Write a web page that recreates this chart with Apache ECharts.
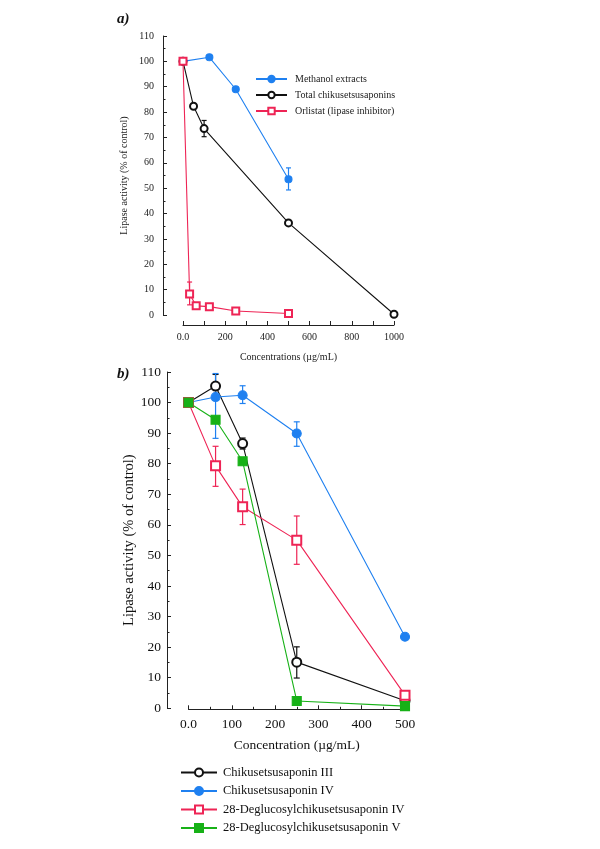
<!DOCTYPE html>
<html>
<head>
<meta charset="utf-8">
<script src="https://cdn.jsdelivr.net/npm/echarts@6/dist/echarts.min.js"></script>
<style>html,body{margin:0;padding:0;background:#fff;}#c{width:600px;height:849px;}</style>
</head>
<body>
<div id="c"></div>
<script>
// ---- Panel a data ----
const aMethX = [0, 125, 250, 500];
const aMethY = [100, 101.6, 89, 53.5];
const aTotX = [0, 50, 100, 500, 1000];
const aTotY = [100, 82.3, 73.5, 36.3, 0.3];
const aOrlX = [0, 31.25, 62.5, 125, 250, 500];
const aOrlY = [100, 8.3, 3.6, 3.3, 1.6, 0.6];
const aMethErr = [[500, 49.3, 58]];
const aTotErr = [[100, 70.3, 76.7]];
const aOrlErr = [[31.25, 4, 13]];
const aXTicks = ['0.0', '200', '400', '600', '800', '1000'];

// ---- Panel b data ----
const bConc = [0, 62.5, 125, 250, 500];
const bC3 = [100, 105.4, 86.6, 15.1, 2.5];
const bC4 = [100, 101.8, 102.4, 89.9, 23.4];
const bD4 = [100, 79.3, 65.9, 55.0, 4.3];
const bD5 = [100, 94.4, 80.8, 2.4, 0.7];
const bC3Err = [[62.5, 101.6, 109.2], [125, 84.8, 88.4], [250, 9.9, 20.1]];
const bC4Err = [[62.5, 88.3, 109.5], [125, 99.7, 105.5], [250, 85.7, 93.7]];
const bD4Err = [[62.5, 72.6, 85.7], [125, 60.1, 71.7], [250, 47.1, 62.9]];

const BLUE = '#1f80f0', BLACK = '#111111', RED = '#ee2455', GREEN = '#17b117';
const SERIF = '"Liberation Serif", "DejaVu Serif", serif';

function zip(xs, ys) { return xs.map((x, i) => [x, ys[i]]); }

function errSeries(data, color, xi, yi, cap) {
  return {
    type: 'custom', xAxisIndex: xi, yAxisIndex: yi, data: data, z: 1, silent: true,
    renderItem: function (params, api) {
      const x = api.value(0), lo = api.value(1), hi = api.value(2);
      const p1 = api.coord([x, lo]), p2 = api.coord([x, hi]);
      const st = { stroke: color, lineWidth: 1.2 };
      return { type: 'group', children: [
        { type: 'line', shape: { x1: p1[0], y1: p1[1], x2: p2[0], y2: p2[1] }, style: st },
        { type: 'line', shape: { x1: p1[0] - cap, y1: p1[1], x2: p1[0] + cap, y2: p1[1] }, style: st },
        { type: 'line', shape: { x1: p2[0] - cap, y1: p2[1], x2: p2[0] + cap, y2: p2[1] }, style: st }
      ]};
    }
  };
}

function lineSeries(name, data, color, symbol, size, xi, yi) {
  return {
    name: name, type: 'line', xAxisIndex: xi, yAxisIndex: yi, data: data, clip: false, z: 3,
    symbol: symbol, symbolSize: size, showAllSymbol: true,
    lineStyle: { color: color, width: 1.1 },
    itemStyle: { color: color, borderColor: color, borderWidth: 1.1 },
    emphasis: { disabled: true }
  };
}

const axisCommon = {
  axisLine: { onZero: false, lineStyle: { color: '#222', width: 1 } },
  axisTick: { inside: true, length: 4, lineStyle: { color: '#222' } },
  minorTick: { show: true, splitNumber: 2, length: 2.5, lineStyle: { color: '#222' } },
  splitLine: { show: false }
};

const chart = echarts.init(document.getElementById('c'), null, { renderer: 'canvas' });
chart.setOption({
  animation: false,
  backgroundColor: '#fff',
  textStyle: { fontFamily: SERIF },
  graphic: [
    { type: 'text', left: 117, top: 12, style: { text: 'a)', font: 'italic bold 15px ' + SERIF, fill: '#111' } },
    { type: 'text', left: 117, top: 367, style: { text: 'b)', font: 'italic bold 15px ' + SERIF, fill: '#111' } }
  ],
  grid: [
    { left: 183, top: 36, width: 211, height: 279 },
    { left: 188.5, top: 372, width: 216.5, height: 336.3 }
  ],
  xAxis: [
    Object.assign({}, axisCommon, {
      gridIndex: 0, type: 'value', min: 0, max: 1000, interval: 100, offset: 10,
      minorTick: { show: false },
      name: 'Concentrations (\u00b5g/mL)', nameLocation: 'middle', nameGap: 27,
      nameTextStyle: { fontFamily: SERIF, fontSize: 10, color: '#222' },
      axisLabel: { fontFamily: SERIF, fontSize: 10, color: '#222', margin: 7,
        formatter: function (v) { return v % 200 === 0 ? aXTicks[v / 200] : ''; } }
    }),
    Object.assign({}, axisCommon, {
      gridIndex: 1, type: 'value', min: 0, max: 500, interval: 100, offset: 1,
      name: 'Concentration (\u00b5g/mL)', nameLocation: 'middle', nameGap: 29,
      nameTextStyle: { fontFamily: SERIF, fontSize: 13.5, color: '#111' },
      axisLabel: { fontFamily: SERIF, fontSize: 13.5, color: '#111', margin: 8,
        formatter: function (v) { return v === 0 ? '0.0' : String(v); } }
    })
  ],
  yAxis: [
    Object.assign({}, axisCommon, {
      gridIndex: 0, type: 'value', min: 0, max: 110, interval: 10, offset: 20,
      name: 'Lipase activity (% of control)', nameLocation: 'middle', nameGap: 34,
      nameTextStyle: { fontFamily: SERIF, fontSize: 10, color: '#222' },
      axisLabel: { fontFamily: SERIF, fontSize: 10, color: '#222', margin: 9 }
    }),
    Object.assign({}, axisCommon, {
      gridIndex: 1, type: 'value', min: 0, max: 110, interval: 10, offset: 21.5,
      name: 'Lipase activity (% of control)', nameLocation: 'middle', nameGap: 25,
      nameTextStyle: { fontFamily: SERIF, fontSize: 14.5, color: '#111' },
      axisLabel: { fontFamily: SERIF, fontSize: 13.5, color: '#111', margin: 6 }
    })
  ],
  legend: [
    {
      data: ['Methanol extracts', 'Total chikusetsusaponins', 'Orlistat (lipase inhibitor)'],
      orient: 'vertical', left: 250, top: 69, itemWidth: 31, itemHeight: 8, itemGap: 6,
      textStyle: { fontFamily: SERIF, fontSize: 10, color: '#222', padding: [0, 0, 0, 3] },
      selectedMode: false
    },
    {
      data: ['Chikusetsusaponin III', 'Chikusetsusaponin IV', '28-Deglucosylchikusetsusaponin IV', '28-Deglucosylchikusetsusaponin V'],
      orient: 'vertical', left: 175, top: 761, itemWidth: 36, itemHeight: 10, itemGap: 5.5,
      textStyle: { fontFamily: SERIF, fontSize: 12.5, color: '#111', padding: [0, 0, 0, 1] },
      selectedMode: false
    }
  ],
  series: [
    errSeries(aMethErr, BLUE, 0, 0, 2.5),
    errSeries(aTotErr, BLACK, 0, 0, 2.5),
    errSeries(aOrlErr, RED, 0, 0, 2.5),
    lineSeries('Methanol extracts', zip(aMethX, aMethY), BLUE, 'circle', 7, 0, 0),
    lineSeries('Total chikusetsusaponins', zip(aTotX, aTotY), BLACK, 'emptyCircle', 7, 0, 0),
    lineSeries('Orlistat (lipase inhibitor)', zip(aOrlX, aOrlY), RED, 'emptyRect', 7, 0, 0),

    errSeries(bC3Err, BLACK, 1, 1, 3),
    errSeries(bC4Err, BLUE, 1, 1, 3),
    errSeries(bD4Err, RED, 1, 1, 3),
    lineSeries('Chikusetsusaponin III', zip(bConc, bC3), BLACK, 'emptyCircle', 9, 1, 1),
    lineSeries('Chikusetsusaponin IV', zip(bConc, bC4), BLUE, 'circle', 9, 1, 1),
    lineSeries('28-Deglucosylchikusetsusaponin IV', zip(bConc, bD4), RED, 'emptyRect', 9, 1, 1),
    lineSeries('28-Deglucosylchikusetsusaponin V', zip(bConc, bD5), GREEN, 'rect', 9, 1, 1)
  ]
});
</script>
</body>
</html>
